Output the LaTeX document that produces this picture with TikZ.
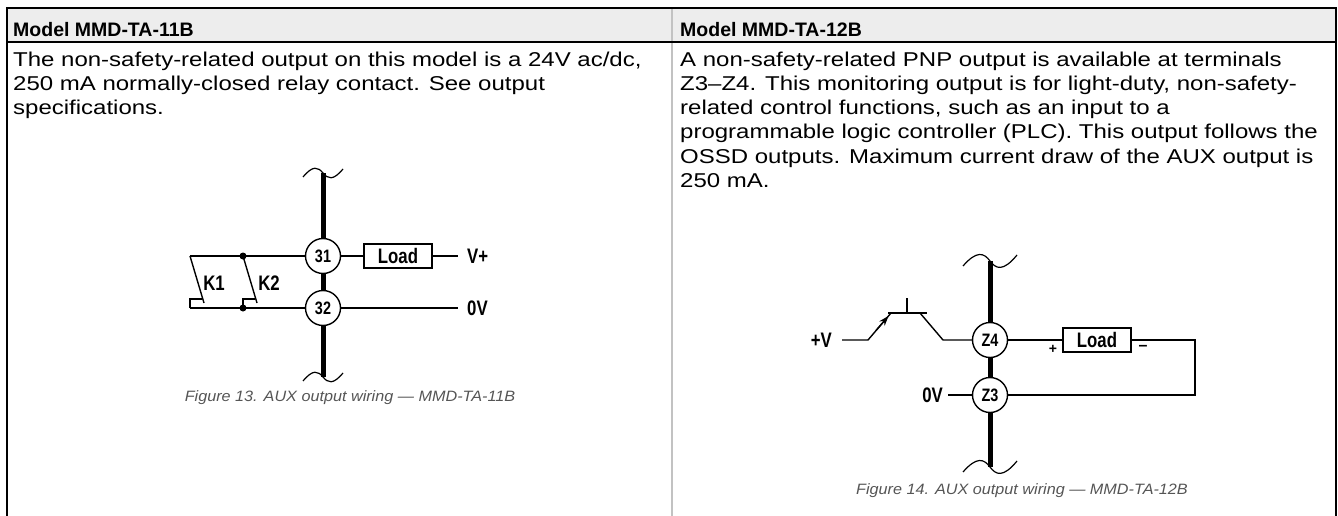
\documentclass[tikz,border=0pt]{standalone}
\usepackage{fontspec}
\setmainfont{Liberation Sans}
\newfontfamily\narrowfont[FakeStretch=0.8]{Liberation Sans}
\newfontfamily\bodyfont[FakeStretch=1.2]{Liberation Sans}
\newfontfamily\capfont[FakeStretch=1.08]{Liberation Sans}
\usetikzlibrary{arrows.meta}

\definecolor{headgray}{HTML}{EDEDED}
\definecolor{rulegray}{HTML}{C2C2C2}
\definecolor{capgray}{HTML}{555555}

\tikzset{
  wire/.style={line width=1.4pt},
  bus/.style={line width=5pt},
  brk/.style={line width=1.2pt},
  terminal/.style={circle, draw, line width=1.4pt, fill=white, minimum size=35pt,
    inner sep=0pt, font=\narrowfont\bfseries\fontsize{18}{18}\selectfont},
  loadbox/.style={rectangle, draw, line width=1.2pt, fill=white, minimum width=68pt,
    minimum height=24pt, inner sep=0pt, font=\narrowfont\bfseries\fontsize{21}{21}\selectfont},
  tag/.style={inner sep=0pt, font=\narrowfont\bfseries\fontsize{21}{21}\selectfont},
  dot/.style={circle, fill, inner sep=0pt, minimum size=7pt},
  headtext/.style={anchor=base west, inner sep=0pt, font=\bfseries\fontsize{19.5}{24}\selectfont},
  celltext/.style={anchor=base west, inner sep=0pt, font=\bodyfont\fontsize{20}{24}\selectfont},
  figcap/.style={anchor=base, inner sep=0pt, text=capgray, font=\capfont\itshape\fontsize{15}{18}\selectfont},
}

\begin{document}
\begin{tikzpicture}[x=1pt, y=-1pt]
        \useasboundingbox (0,0) rectangle (1338,516);

        %Table
        \fill [headgray] (7,8.5) rectangle (1336,42.5);
        \draw [rulegray, line width=2pt] (672,8.5) -- (672,516);
        \draw [line width=2pt] (7,516) -- (7,8.5) -- (1336,8.5) -- (1336,516);
        \draw [line width=2pt] (7,42.5) -- (1336,42.5);
        %Headers
        \node [headtext] (head11) at (13,37)  {Model MMD-TA-11B};
        \node [headtext] (head12) at (680,37) {Model MMD-TA-12B};
        %Text 11B
        \node [celltext] (txtA1) at (13,67)  {The non-safety-related output on this model is a 24V ac/dc,};
        \node [celltext] (txtA2) at (13,91)  {250 mA normally-closed relay contact. See output};
        \node [celltext] (txtA3) at (13,115) {specifications.};
        %Text 12B
        \node [celltext] (txtB1) at (680,67)  {A non-safety-related PNP output is available at terminals};
        \node [celltext] (txtB2) at (680,91)  {Z3–Z4. This monitoring output is for light-duty, non-safety-};
        \node [celltext] (txtB3) at (680,115) {related control functions, such as an input to a};
        \node [celltext] (txtB4) at (680,139) {programmable logic controller (PLC). This output follows the};
        \node [celltext] (txtB5) at (680,163) {OSSD outputs. Maximum current draw of the AUX output is};
        \node [celltext] (txtB6) at (680,187) {250 mA.};

        %Bus 31/32
        \coordinate (busAtop) at (323,173);
        \coordinate (busAbot) at (323,377);
        \draw [bus] (busAtop) -- (busAbot);
        \draw [brk] (303,177) .. controls (313,165) and (318,167) .. (busAtop)
                              .. controls (328,179) and (333,181) .. (343,169);
        \draw [brk] (303,381) .. controls (313,369) and (318,371) .. (busAbot)
                              .. controls (328,383) and (333,385) .. (343,373);
        %Terminals 31/32
        \node [terminal] (t31) at (323,256) {31};
        \node [terminal] (t32) at (323,308) {32};
        \node [loadbox] (loadA) at (398,256) {Load};
        \coordinate (k1top) at (190,256);
        \coordinate (k1bot) at (190,308);
        \coordinate (vplus) at (458,256);
        \coordinate (zeroA) at (458,308);
        \node [dot] (j31) at (243,256) {};
        \node [dot] (j32) at (243,308) {};
        \draw [wire] (k1top) -- (t31) -- (loadA) -- (vplus);
        \draw [wire] (k1bot) -- (t32) -- (zeroA);
        %K1
        \draw [wire] (k1top) -- (204,303);
        \draw [wire] (k1bot) -- (190,299) -- (202,299);
        \node [tag] (k1) at (214,283) {K1};
        %K2
        \draw [wire] (j31.center) -- (257,303);
        \draw [wire] (j32.center) -- (243,299) -- (255,299);
        \node [tag] (k2) at (269,283) {K2};
        %Supply
        \node [tag, anchor=west] (lvplus) at (467,256) {V+};
        \node [tag, anchor=west] (lzeroA) at (467,308) {0V};
        \node [figcap] (cap13) at (350,401) {Figure 13. AUX output wiring — MMD-TA-11B};

        %Bus Z4/Z3
        \coordinate (busBtop) at (990,261);
        \coordinate (busBbot) at (990,467);
        \draw [bus] (busBtop) -- (busBbot);
        \draw [brk] (963,266) .. controls (977,250) and (984,253) .. (busBtop)
                              .. controls (996,269) and (1003,272) .. (1017,255);
        \draw [brk] (963,472) .. controls (977,456) and (984,459) .. (busBbot)
                              .. controls (996,475) and (1003,478) .. (1017,461);
        %Terminals Z4/Z3
        \node [terminal] (tz4) at (990,340) {Z4};
        \node [terminal] (tz3) at (990,395) {Z3};
        %PNP transistor
        \node [tag, anchor=east] (lplusV) at (832,340) {+V};
        \coordinate (pvB) at (842,340);
        \coordinate (emit) at (868,340);
        \coordinate (emitT) at (891,313);
        \coordinate (baseL) at (888,313);
        \coordinate (baseR) at (927,313);
        \coordinate (baseT) at (907,298);
        \coordinate (baseB) at (907,313);
        \coordinate (coll) at (920,313);
        \coordinate (collB) at (943,340);
        \draw [wire] (pvB) -- (emit) -- (emitT);
        \draw [wire, -{Stealth[length=10pt, width=7pt]}] (876,330.5) -- (888.5,316);
        \draw [wire] (baseL) -- (baseR);
        \draw [wire] (baseT) -- (baseB);
        \draw [wire] (coll) -- (collB) -- (tz4);
        %Load
        \node [loadbox] (loadB) at (1097,340) {Load};
        \node [tag, font=\bfseries\fontsize{14}{14}\selectfont] (lplus) at (1053,349) {+};
        \node [tag, font=\bfseries\fontsize{16}{16}\selectfont] (lminus) at (1143,348) {–};
        \coordinate (retT) at (1195,340);
        \coordinate (retB) at (1195,395);
        \draw [wire] (tz4) -- (loadB) -- (retT) -- (retB) -- (tz3);
        \node [tag, anchor=east] (lzeroB) at (943,395) {0V};
        \coordinate (zeroB) at (948,395);
        \draw [wire] (zeroB) -- (tz3);
        \node [figcap] (cap14) at (1022,494) {Figure 14. AUX output wiring — MMD-TA-12B};
\end{tikzpicture}
\end{document}
